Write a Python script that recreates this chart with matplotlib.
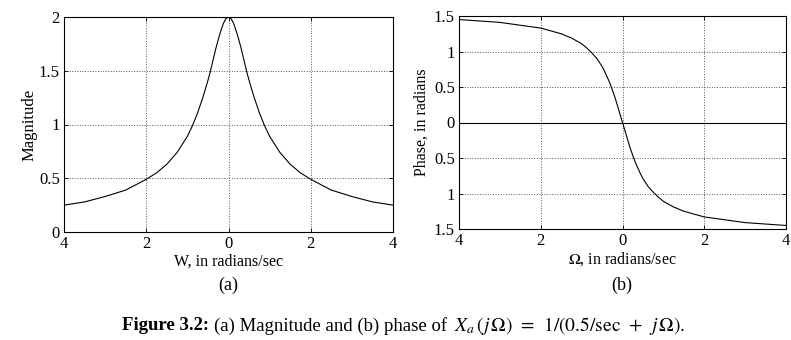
import numpy as np
import matplotlib
matplotlib.use('Agg')
import matplotlib.pyplot as plt

plt.rcParams['font.family'] = ['Liberation Serif', 'DejaVu Serif']
plt.rcParams['mathtext.fontset'] = 'stix'

# frequency samples (rad/sec)
omega = [-4, -3.5, -3, -2.5, -2, -1.75, -1.5, -1.25, -1, -0.875, -0.75, -0.625,
         -0.5, -0.4375, -0.375, -0.3125, -0.25, -0.1875, -0.125, -0.0625, 0,
         0.0625, 0.125, 0.1875, 0.25, 0.3125, 0.375, 0.4375, 0.5, 0.625, 0.75,
         0.875, 1, 1.25, 1.5, 1.75, 2, 2.5, 3, 3.5, 4]

magnitude = [0.25, 0.28, 0.33, 0.39, 0.49, 0.55, 0.63, 0.74, 0.89, 0.99, 1.11, 1.25,
             1.41, 1.50, 1.60, 1.70, 1.79, 1.87, 1.94, 1.985, 2.00,
             1.985, 1.94, 1.87, 1.79, 1.70, 1.60, 1.50, 1.41, 1.25, 1.11,
             0.99, 0.89, 0.74, 0.63, 0.55, 0.49, 0.39, 0.33, 0.28, 0.25]

phase = [1.45, 1.43, 1.41, 1.37, 1.33, 1.29, 1.25, 1.19, 1.11, 1.05, 0.98, 0.90,
         0.79, 0.72, 0.64, 0.56, 0.46, 0.36, 0.24, 0.12, 0.0,
         -0.12, -0.24, -0.36, -0.46, -0.56, -0.64, -0.72, -0.79, -0.90, -0.98,
         -1.05, -1.11, -1.19, -1.25, -1.29, -1.33, -1.37, -1.41, -1.43, -1.45]

x_ticks = [-4, -2, 0, 2, 4]
x_ticklabels = ['4', '2', '0', '2', '4']   # minus signs are lost in the scan
mag_ticks = [0, 0.5, 1, 1.5, 2]
mag_ticklabels = ['0', '0.5', '1', '1.5', '2']
ph_ticks = [-1.5, -1, -0.5, 0, 0.5, 1, 1.5]
ph_ticklabels = ['1.5', '1', '0.5', '0', '0.5', '1', '1.5']

fig = plt.figure(figsize=(7.91, 3.40), dpi=100)
ax1 = fig.add_axes([64/791, 1 - 232/340, 329/791, 215/340])
ax2 = fig.add_axes([459/791, 1 - 229/340, 327/791, 213/340])


def style(ax):
    ax.grid(True, linestyle=':', color='#555555', linewidth=0.7)
    ax.tick_params(direction='in', top=True, right=True, labelsize=12,
                   length=3, width=0.6, pad=3)
    for s in ax.spines.values():
        s.set_linewidth(0.8)


ax1.plot(omega, magnitude, color='black', linewidth=0.8)
ax1.set_xlim(-4, 4)
ax1.set_ylim(0, 2)
ax1.set_xticks(x_ticks)
ax1.set_xticklabels(x_ticklabels)
ax1.set_yticks(mag_ticks)
ax1.set_yticklabels(mag_ticklabels)
ax1.set_xlabel('W, in radians/sec', fontsize=11.5, labelpad=1)
ax1.set_ylabel('Magnitude', fontsize=12, labelpad=1)
style(ax1)

ax2.plot(omega, phase, color='black', linewidth=0.8)
ax2.axhline(0, color='black', linewidth=0.8)
ax2.set_xlim(-4, 4)
ax2.set_ylim(-1.5, 1.5)
ax2.set_xticks(x_ticks)
ax2.set_xticklabels(x_ticklabels)
ax2.set_xlabel(r'$\Omega$, in radians/sec', fontsize=11.5, labelpad=1)
ax2.set_yticks(ph_ticks)
ax2.set_yticklabels(ph_ticklabels)
ax2.set_ylabel('Phase, in radians', fontsize=11.5, labelpad=3)
style(ax2)

fig.text(228/791, 1 - 285/340, '(a)', fontsize=13, ha='center', va='center')
fig.text(622/791, 1 - 285/340, '(b)', fontsize=13, ha='center', va='center')

# caption: bold label, then the rest placed right after it
lab = fig.text(122/791, 1 - 326/340, 'Figure 3.2:', fontsize=13.5, fontweight='bold',
               ha='left', va='center')
fig.canvas.draw()
bb = lab.get_window_extent()
txt = fig.text((bb.x1 + 5) / 791, 1 - 326/340,
               '(a) Magnitude and (b) phase of ',
               fontsize=13.5, ha='left', va='center')
fig.canvas.draw()
bb2 = txt.get_window_extent()
fig.text((bb2.x1 + 2) / 791, 1 - 326/340,
         r'$X_{a}\,(j\,\mathit{\Omega})\;\,=\;\,1/(0.5/\mathrm{sec}\;\,+\;\,j\,\mathit{\Omega}).$',
         fontsize=14, ha='left', va='center')

fig.savefig('out.png', dpi=100)
